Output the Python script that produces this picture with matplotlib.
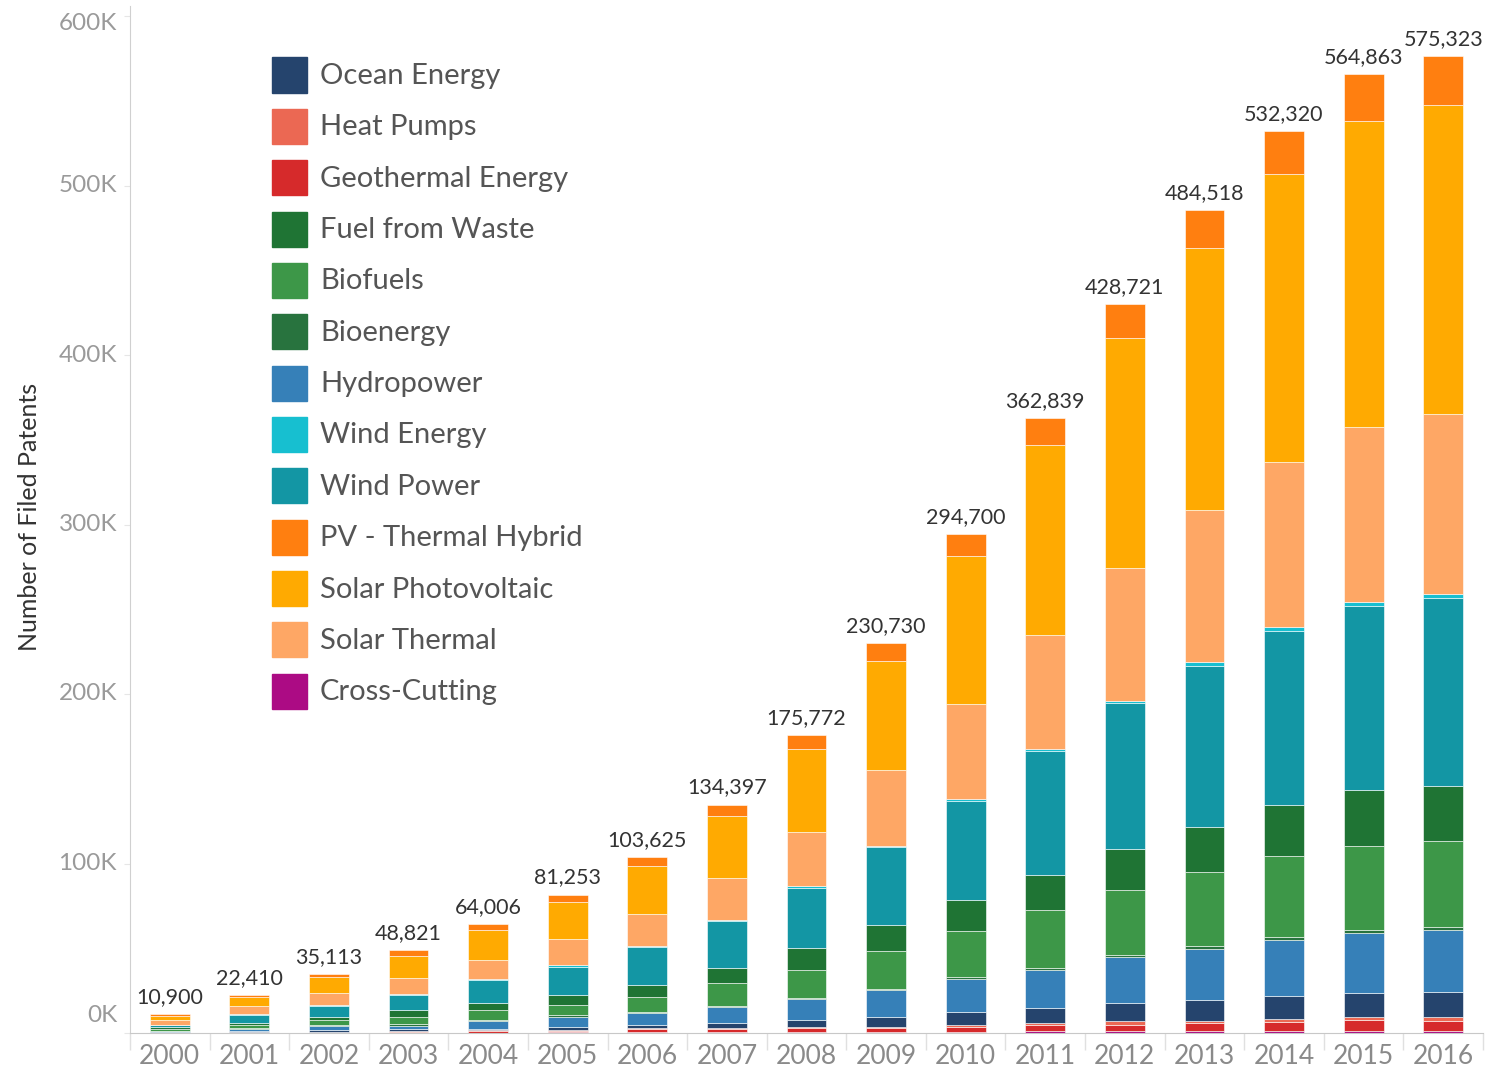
import matplotlib
matplotlib.use("Agg")
import matplotlib.pyplot as plt
from matplotlib.patches import Rectangle
import numpy as np

plt.rcParams['font.family'] = ['Lato', 'DejaVu Sans']

years = [str(y) for y in range(2000, 2017)]
totals = [10900, 22410, 35113, 48821, 64006, 81253, 103625, 134397, 175772,
          230730, 294700, 362839, 428721, 484518, 532320, 564863, 575323]

# values in thousands of filed patents, bottom to top of stack
cross_cutting = [0.05, 0.1, 0.1, 0.1, 0.2, 0.3, 0.5, 0.4, 0.8, 0.8, 0.8, 0.9, 1.0, 1.0, 1.0, 1.0, 1.0]
geothermal = [0.1, 0.2, 0.3, 0.5, 0.9, 1.0, 1.8, 1.8, 1.9, 1.9, 2.5, 3.6, 3.7, 4.7, 5.4, 6.8, 6.3]
heat_pumps = [0.1, 0.2, 0.3, 0.3, 0.4, 0.4, 0.6, 0.6, 0.7, 1.0, 1.2, 1.3, 2.4, 1.6, 1.8, 1.8, 2.4]
ocean = [0.3, 0.6, 0.8, 1.2, 1.0, 1.8, 1.8, 3.2, 4.1, 5.9, 7.7, 8.8, 10.6, 12.4, 13.6, 14.2, 14.2]
hydropower = [0.6, 1.4, 2.6, 2.2, 4.5, 6.1, 7.1, 9.2, 12.4, 15.9, 19.5, 22.4, 27.1, 29.7, 33.0, 35.0, 36.6]
bioenergy = [0.2, 0.4, 0.6, 0.8, 0.8, 0.8, 0.6, 1.0, 0.8, 0.6, 1.2, 1.2, 1.0, 1.9, 1.8, 2.0, 2.0]
biofuels = [1.2, 2.0, 2.7, 4.3, 5.5, 6.1, 8.8, 13.4, 16.5, 22.4, 27.1, 34.2, 38.8, 43.7, 47.8, 49.7, 50.7]
fuel_waste = [0.8, 1.2, 2.0, 4.0, 4.4, 5.7, 7.1, 8.8, 13.0, 15.3, 18.3, 20.6, 24.2, 26.8, 30.1, 32.9, 32.4]
wind_power = [1.2, 4.3, 6.3, 8.8, 13.3, 16.9, 22.4, 27.7, 35.4, 46.0, 58.4, 73.2, 86.1, 95.0, 102.7, 108.6, 110.9]
wind_energy = [0.4, 0.6, 0.8, 1.0, 0.8, 0.8, 0.6, 0.8, 1.2, 0.6, 1.2, 1.2, 1.2, 1.8, 2.4, 2.4, 2.4]
solar_thermal = [2.5, 4.7, 7.1, 9.2, 11.4, 15.3, 18.9, 24.4, 31.9, 44.8, 56.0, 67.3, 78.5, 89.7, 97.3, 103.2, 106.2]
solar_pv = [2.5, 5.5, 9.4, 12.8, 17.7, 22.0, 28.3, 36.6, 49.0, 64.3, 87.3, 112.1, 135.7, 154.6, 169.9, 180.5, 182.3]
pv_hybrid = [1.0, 1.2, 1.9, 3.5, 3.4, 4.5, 5.1, 6.9, 8.3, 10.6, 13.3, 15.9, 19.5, 22.4, 25.4, 27.7, 28.9]

stack = [
    ("Cross-Cutting", cross_cutting, "#ac0b84"),
    ("Geothermal Energy", geothermal, "#d62a2b"),
    ("Heat Pumps", heat_pumps, "#eb6853"),
    ("Ocean Energy", ocean, "#25446d"),
    ("Hydropower", hydropower, "#3680b8"),
    ("Bioenergy", bioenergy, "#28733e"),
    ("Biofuels", biofuels, "#3d9748"),
    ("Fuel from Waste", fuel_waste, "#1f7434"),
    ("Wind Power", wind_power, "#1396a4"),
    ("Wind Energy", wind_energy, "#17bfd0"),
    ("Solar Thermal", solar_thermal, "#fea765"),
    ("Solar Photovoltaic", solar_pv, "#ffaa01"),
    ("PV - Thermal Hybrid", pv_hybrid, "#ff7f10"),
]
legend_order = ["Ocean Energy", "Heat Pumps", "Geothermal Energy", "Fuel from Waste",
                "Biofuels", "Bioenergy", "Hydropower", "Wind Energy", "Wind Power",
                "PV - Thermal Hybrid", "Solar Photovoltaic", "Solar Thermal", "Cross-Cutting"]
colors = {n: c for n, _, c in stack}

W, H = 1486, 1068
fig = plt.figure(figsize=(W / 100, H / 100), dpi=100)
ax = fig.add_axes([130 / W, (H - 1033) / H, (1483 - 130) / W, (1033 - 6) / H])

x = np.arange(len(years))
bottom = np.zeros(len(years))
for name, vals, col in stack:
    v = np.array(vals)
    ax.bar(x, v, 0.5, bottom=bottom, color=col, edgecolor="white", linewidth=0.4)
    bottom += v

for xi, top, t in zip(x, bottom, totals):
    ax.annotate(f"{t:,}", (xi, top), xytext=(0, 5), textcoords="offset points",
                ha="center", va="bottom", fontsize=15.5, color="#333333")

ax.set_xlim(-0.5, len(years) - 0.5)
ax.set_ylim(0, 1027 / 1.695)

for s in ["top", "right"]:
    ax.spines[s].set_visible(False)
ax.spines["left"].set_color("#d0d0d0")
ax.spines["bottom"].set_color("#c8c8c8")

ax.set_xticks(x)
ax.set_xticklabels(years, fontsize=19, color="#8a8a8a")
ax.tick_params(axis="x", length=0, pad=8)
ax.set_xticks(np.arange(-0.5, len(years), 1), minor=True)
ax.tick_params(axis="x", which="minor", length=12, color="#e0e0e0", width=1)

yt = [0, 100, 200, 300, 400, 500, 600]
ax.set_yticks(yt)
ax.set_yticklabels([])
ax.tick_params(axis="y", length=4, color="#e6e6e6", direction="out")
ytr = ax.get_yaxis_transform()
for v in yt:
    lab = f"{v}K"
    if v == 0:
        ax.annotate(lab, (-13 / 1353, v), xycoords=ytr, xytext=(0, 7),
                    textcoords="offset pixels", ha="right", va="bottom",
                    fontsize=17.5, color="#9a9a9a")
    elif v == 600:
        ax.annotate(lab, (-13 / 1353, v), xycoords=ytr, xytext=(0, -7),
                    textcoords="offset pixels", ha="right", va="center",
                    fontsize=17.5, color="#9a9a9a")
    else:
        ax.text(-13 / 1353, v, lab, transform=ytr, ha="right", va="center",
                fontsize=17.5, color="#9a9a9a")

fig.text(30 / W, 1 - 517 / H, "Number of Filed Patents", rotation=90,
         ha="center", va="center", fontsize=18, color="#333333")

# legend
for i, name in enumerate(legend_order):
    cy = 75 + i * 51.35
    fig.add_artist(Rectangle((272 / W, 1 - (cy + 17.5) / H), 35 / W, 35 / H,
                             transform=fig.transFigure, color=colors[name]))
    fig.text(320 / W, 1 - (cy + 1) / H, name, ha="left", va="center",
             fontsize=21, color="#555555")

fig.savefig("out.png", dpi=100)
